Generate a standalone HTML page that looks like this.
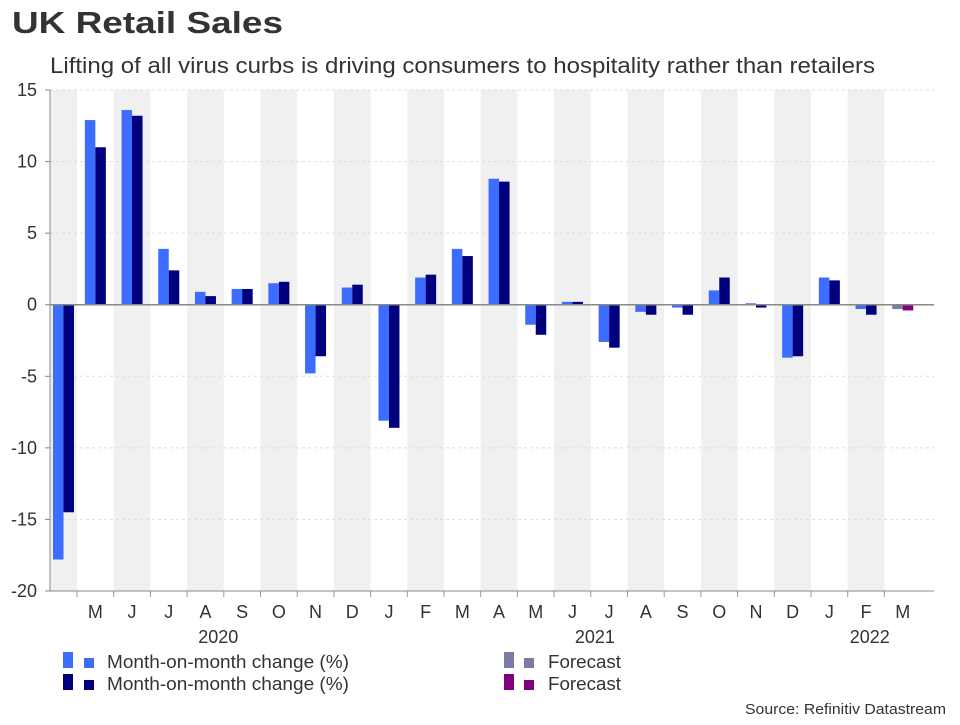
<!DOCTYPE html>
<html><head><meta charset="utf-8"><style>
body{margin:0;background:#fff;font-family:"Liberation Sans",Arial,sans-serif}
svg text{font-family:"Liberation Sans",Arial,sans-serif}
</style></head><body>
<svg id="c" width="960" height="720">
<text x="12" y="33" font-size="31" font-weight="bold" fill="#333" textLength="271" lengthAdjust="spacingAndGlyphs">UK Retail Sales</text>
<text x="50" y="73" font-size="22" fill="#333" textLength="825" lengthAdjust="spacingAndGlyphs">Lifting of all virus curbs is driving consumers to hospitality rather than retailers</text>
<g id="bands"></g><g id="grid"></g><g id="bars"></g><g id="axes"></g>
<g>
<rect x="63" y="652" width="10" height="16" fill="#3d6dff"/><rect x="84" y="658" width="10" height="10" fill="#3d6dff"/>
<text x="107" y="668" font-size="18" fill="#333" textLength="242" lengthAdjust="spacingAndGlyphs">Month-on-month change (%)</text>
<rect x="63" y="674" width="10" height="16" fill="#00007f"/><rect x="84" y="680" width="10" height="10" fill="#00007f"/>
<text x="107" y="690" font-size="18" fill="#333" textLength="242" lengthAdjust="spacingAndGlyphs">Month-on-month change (%)</text>
<rect x="504" y="652" width="10" height="16" fill="#7b7ba6"/><rect x="524" y="658" width="10" height="10" fill="#7b7ba6"/>
<text x="548" y="668" font-size="18" fill="#333" textLength="73" lengthAdjust="spacingAndGlyphs">Forecast</text>
<rect x="504" y="674" width="10" height="16" fill="#800080"/><rect x="524" y="680" width="10" height="10" fill="#800080"/>
<text x="548" y="690" font-size="18" fill="#333" textLength="73" lengthAdjust="spacingAndGlyphs">Forecast</text>
</g>
<text x="946" y="714" font-size="15" fill="#333" text-anchor="end" textLength="201" lengthAdjust="spacingAndGlyphs">Source: Refinitiv Datastream</text>
</svg>
<script>
const months=["","M","J","J","A","S","O","N","D","J","F","M","A","M","J","J","A","S","O","N","D","J","F","M"];
const series1=[-17.8,12.9,13.6,3.9,0.9,1.1,1.5,-4.8,1.2,-8.1,1.9,3.9,8.8,-1.4,0.2,-2.6,-0.5,-0.2,1.0,0.1,-3.7,1.9,-0.3,null];
const series2=[-14.5,11.0,13.2,2.4,0.6,1.1,1.6,-3.6,1.4,-8.6,2.1,3.4,8.6,-2.1,0.2,-3.0,-0.7,-0.7,1.9,-0.2,-3.6,1.7,-0.7,null];
const forecast1=[null,null,null,null,null,null,null,null,null,null,null,null,null,null,null,null,null,null,null,null,null,null,null,-0.3];
const forecast2=[null,null,null,null,null,null,null,null,null,null,null,null,null,null,null,null,null,null,null,null,null,null,null,-0.4];
const yTicks=[15,10,5,0,-5,-10,-15,-20];
const yearLabels=["2020","2021","2022"];
const yearPos=[4.35,14.61,22.1];
const L=50,R=934,T=90,B=591,ymin=-20,ymax=15,step=36.7,b0=77;
const NS="http://www.w3.org/2000/svg";
function y(v){return T+(ymax-v)/(ymax-ymin)*(B-T);}
function edge(i){return Math.max(L,Math.min(R,b0+(i-1)*step));}
function cx(i){return (edge(i)+edge(i+1))/2;}
function mk(tag,at,parent){const e=document.createElementNS(NS,tag);for(const k in at)e.setAttribute(k,at[k]);document.getElementById(parent).appendChild(e);return e;}
months.forEach((m,i)=>{if(i%2===0){const r=mk('rect',{x:edge(i),y:T,width:edge(i+1)-edge(i),height:B-T,fill:'#f0f0f0'},'bands');

}});
yTicks.forEach(t=>{if(t!==0&&t!==ymin){const l=mk('line',{x1:L,x2:R,y1:y(t),y2:y(t),stroke:'#ddd','stroke-dasharray':'3,3'},'grid');

}
const tx=mk('text',{x:37,y:y(t)+6,'font-size':18,fill:'#333','text-anchor':'end'},'axes');tx.textContent=t;


mk('line',{x1:L-5,x2:L,y1:y(t),y2:y(t),stroke:'#888'},'axes');});
const bw=10.5;
function bar(v,x0,col,name){if(v===null)return;const r=mk('rect',{x:x0,y:Math.min(y(v),y(0)),width:bw,height:Math.abs(y(v)-y(0)),fill:col},'bars');

}
months.forEach((m,i)=>{const c=cx(i);
bar(series1[i],c-bw,'#3d6dff','bar-mom-1-'+i);
bar(series2[i],c,'#00007f','bar-mom-2-'+i);
bar(forecast1[i],c-bw,'#7b7ba6','bar-forecast-1-'+i);
bar(forecast2[i],c,'#800080','bar-forecast-2-'+i);
const tx=mk('text',{x:c,y:618,'font-size':18,fill:'#333','text-anchor':'middle'},'axes');tx.textContent=m;


if(i>0)mk('line',{x1:edge(i),x2:edge(i),y1:B,y2:B+6,stroke:'#999'},'axes');});
yearLabels.forEach((lab,k)=>{const tx=mk('text',{x:b0+(yearPos[k]-0.5)*step,y:643,'font-size':18,fill:'#333','text-anchor':'middle'},'axes');tx.textContent=lab;

});
mk('line',{x1:L,x2:R,y1:y(0),y2:y(0),stroke:'#888','stroke-width':1.5},'axes');
mk('line',{x1:L,x2:L,y1:T,y2:B,stroke:'#888'},'axes');
mk('line',{x1:L,x2:R,y1:B,y2:B,stroke:'#888'},'axes');
</script>
</body></html>
